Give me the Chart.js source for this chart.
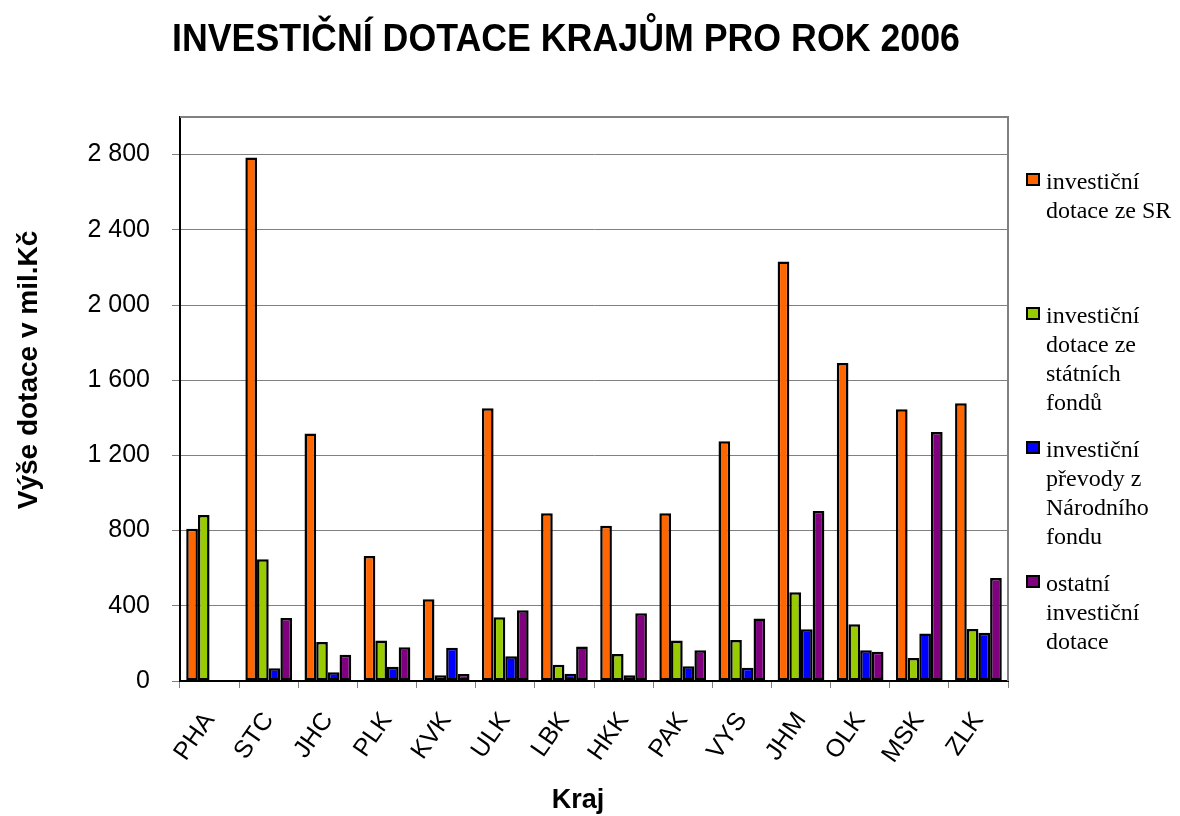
<!DOCTYPE html>
<html>
<head>
    <meta charset="UTF-8">
    <title>Investiční dotace krajům 2006</title>
    <script src="https://cdn.jsdelivr.net/npm/chart.js@4/dist/chart.umd.min.js"></script>
    <style>
        body { margin: 0; background: #fff; }
        #wrap { width: 1180px; height: 816px; }
    </style>
</head>
<body>
<div id="wrap"><canvas id="bar-chart"></canvas></div>
<script type="text/javascript">
    // Kraje
    var categories = ['PHA', 'STC', 'JHC', 'PLK', 'KVK', 'ULK', 'LBK', 'HKK', 'PAK', 'VYS', 'JHM', 'OLK', 'MSK', 'ZLK'];

    // mil. Kč
    var dotaceSR = [810, 2785, 1316, 665, 435, 1451, 892, 826, 892, 1275, 2231, 1692, 1445, 1477];
    var statniFondy = [883, 647, 207, 216, 30, 339, 87, 144, 216, 218, 472, 302, 122, 277];
    var narodniFond = [null, 68, 46, 76, 177, 131, 39, 30, 78, 71, 275, 163, 252, 257];
    var ostatni = [null, 335, 140, 179, 37, 376, 183, 360, 163, 333, 904, 156, 1325, 548];

    var seriesLabels = [
        ['investiční', 'dotace ze SR'],
        ['investiční', 'dotace ze', 'státních', 'fondů'],
        ['investiční', 'převody z', 'Národního', 'fondu'],
        ['ostatní', 'investiční', 'dotace']
    ];

    var yTicks = [0, 400, 800, 1200, 1600, 2000, 2400, 2800];

    var chartTitle = 'INVESTIČNÍ DOTACE KRAJŮM PRO ROK 2006';
    var yTitle = 'Výše dotace v mil.Kč';
    var xTitle = 'Kraj';

    var SANS = '"Liberation Sans", Arial, sans-serif';
    var SERIF = '"Liberation Serif", "Times New Roman", serif';

    function fmt(v) {
        return String(v).replace(/\B(?=(\d{3})+(?!\d))/g, ' ');
    }

    /* titles, legend and plot frame drawn by hand */
    var decor = {
        id: 'decor',
        afterDraw: function (chart) {
            var ctx = chart.ctx;
            var a = chart.chartArea;
            ctx.save();

            ctx.strokeStyle = '#808080';
            ctx.lineWidth = 2;
            ctx.beginPath();
            ctx.moveTo(a.left, a.top);
            ctx.lineTo(a.right, a.top);
            ctx.lineTo(a.right, a.bottom);
            ctx.stroke();

            ctx.fillStyle = '#000';

            // main title, a little condensed
            ctx.font = 'bold 38px ' + SANS;
            ctx.textAlign = 'center';
            ctx.textBaseline = 'middle';
            var w = ctx.measureText(chartTitle).width;
            var sx = Math.min(1, 788 / w);
            ctx.save();
            ctx.translate(566, 41);
            ctx.scale(sx, 1);
            ctx.fillText(chartTitle, 0, 0);
            ctx.restore();

            ctx.font = 'bold 28px ' + SANS;
            ctx.save();
            ctx.translate(29, 370);
            ctx.rotate(-Math.PI / 2);
            ctx.fillText(yTitle, 0, 0);
            ctx.restore();

            ctx.font = 'bold 27px ' + SANS;
            ctx.fillText(xTitle, 578, 801);

            // legend
            ctx.font = '24px ' + SERIF;
            ctx.textAlign = 'left';
            ctx.textBaseline = 'alphabetic';
            chart.data.datasets.forEach(function (ds, i) {
                var base = 189 + i * 134;
                ctx.fillStyle = ds.backgroundColor;
                ctx.fillRect(1027, base - 15, 12, 11);
                ctx.strokeStyle = '#000';
                ctx.lineWidth = 2;
                ctx.strokeRect(1027, base - 15, 12, 11);
                ctx.fillStyle = '#000';
                seriesLabels[i].forEach(function (line, j) {
                    ctx.fillText(line, 1046, base + j * 29);
                });
            });

            ctx.restore();
        }
    };

    function bars(data, color) {
        return {
            data: data,
            backgroundColor: color,
            borderColor: '#000',
            borderWidth: 2.5,
            borderSkipped: false,
            categoryPercentage: 0.79,
            barPercentage: 1
        };
    }

    var config = {
        type: 'bar',
        data: {
            labels: categories,
            datasets: [
                bars(dotaceSR, '#FF6600'),
                bars(statniFondy, '#99CC00'),
                bars(narodniFond, '#0000FF'),
                bars(ostatni, '#800080')
            ]
        },
        options: {
            responsive: true,
            maintainAspectRatio: false,
            animation: false,
            layout: { padding: { top: 117, right: 172, left: 0, bottom: 0 } },
            plugins: {
                legend: { display: false },
                title: { display: false },
                tooltip: { enabled: false }
            },
            scales: {
                x: {
                    afterFit: function (s) { s.height = 135; },
                    grid: {
                        drawOnChartArea: false,
                        offset: true,
                        tickLength: 7,
                        color: '#808080'
                    },
                    border: { color: '#000', width: 2 },
                    ticks: {
                        color: '#000',
                        font: { family: SANS, size: 25 },
                        minRotation: 55,
                        maxRotation: 55,
                        padding: 19
                    }
                },
                y: {
                    min: 0,
                    max: 3000,
                    afterFit: function (s) { s.width = 180; },
                    afterBuildTicks: function (s) {
                        s.ticks = yTicks.map(function (v) { return { value: v }; }).concat([{ value: 3000 }]);
                    },
                    grid: {
                        color: '#808080',
                        lineWidth: 1,
                        tickLength: 8,
                        tickColor: function (c) {
                            return c.tick && c.tick.value === 3000 ? 'rgba(0,0,0,0)' : '#808080';
                        }
                    },
                    border: { color: '#000', width: 2 },
                    ticks: {
                        color: '#000',
                        font: { family: SANS, size: 25 },
                        padding: 22,
                        callback: function (v) { return v === 3000 ? '' : fmt(v); }
                    }
                }
            }
        },
        plugins: [decor]
    };

    window.onload = function () {
        var ctx = document.getElementById('bar-chart');
        window.myBar = new Chart(ctx, config);
    };
</script>
</body>
</html>
